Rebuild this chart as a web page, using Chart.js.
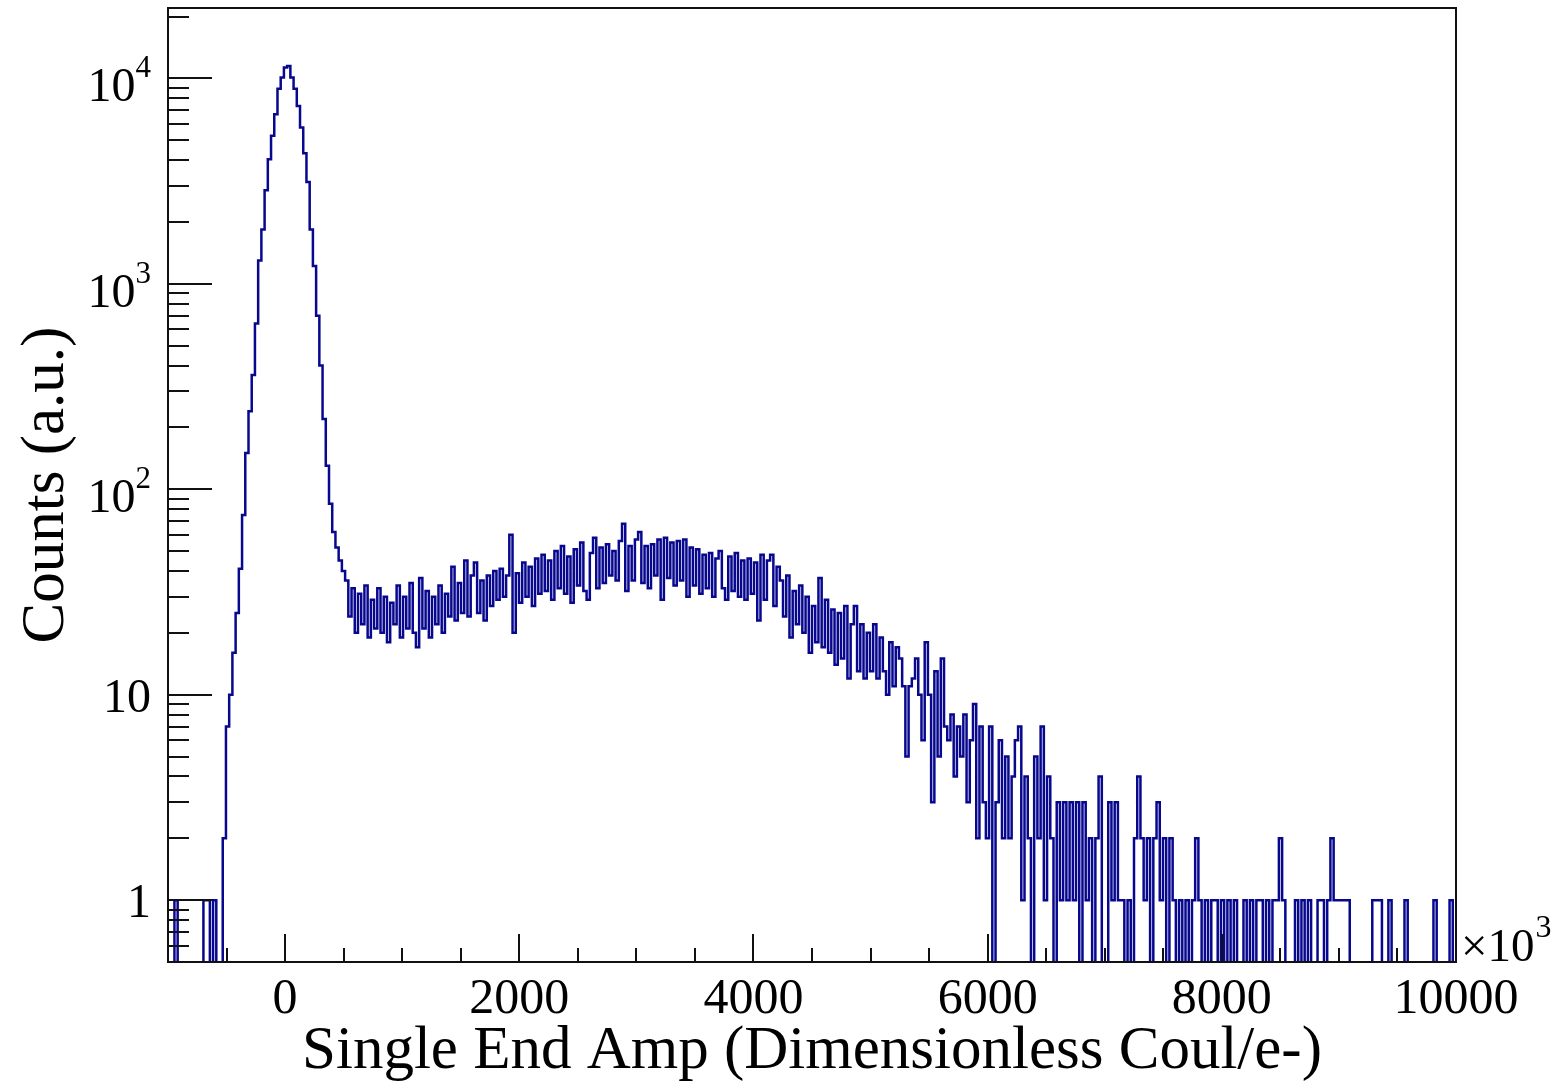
<!DOCTYPE html>
<html>
<head>
<meta charset="utf-8">
<title>Single End Amp</title>
<script src="https://cdn.jsdelivr.net/npm/chart.js@4.4.1/dist/chart.umd.min.js"></script>
<style>
  html, body { margin: 0; padding: 0; background: #fff; }
  #wrap { width: 1567px; height: 1084px; }
</style>
</head>
<body>
<div id="wrap"><canvas id="spectrum" width="1567" height="1084"></canvas></div>
<script>
(() => {
  "use strict";

  // Histogram binning (400 bins over -1000 .. 10000, x10^3)
  const xLow = -1000;
  const xHigh = 10000;
  const nBins = 400;

  // Bin contents, 50 bins per array
  const counts_000_049 = [0,0,1,0,0,0,0,0,0,0, 0,1,1,0,1,0,0,2,7,10, 16,25,41,75,150,240,360,640,1300,1840,
    2850,4040,5250,6690,8900,10100,11300,11500,10100,8900, 7340,5770,4320,3130,1840,1220,700,400,220,130];
  const counts_050_099 = [85,62,52,45,40,36,24,33,20,31, 22,34,19,29,21,33,20,30,18,28, 22,34,19,30,21,35,20,17,37,21,
    32,19,30,22,34,20,31,24,42,23, 35,25,45,24,38,44,25,36,23,38];
  const counts_100_149 = [27,40,29,41,30,38,60,20,39,28, 44,30,42,27,46,31,48,32,45,29, 50,33,53,31,47,28,51,34,55,32,
    29,49,58,33,52,35,54,38,50,36, 56,68,32,53,36,57,62,35,53,33];
  const counts_150_199 = [54,38,57,29,58,37,55,34,56,36, 57,30,52,34,51,31,48,33,49,30, 46,50,33,29,47,32,49,30,45,29,
    46,31,44,23,48,29,45,48,27,42, 36,24,38,19,32,22,34,20,30,16];
  const counts_200_249 = [27,18,37,17,29,16,26,14,25,15, 27,12,22,27,13,22,12,20,13,22, 12,19,13,10,18,11,17,15,11,5,
    11,12,15,10,6,18,10,3,13,5, 15,7,6,8,4,7,5,8,3,6];
  const counts_250_299 = [9,2,7,3,2,7,0,3,6,2, 5,2,4,6,7,1,4,2,0,5, 2,7,1,4,2,0,3,1,3,1,
    3,1,3,0,3,1,2,0,2,4, 0,0,3,1,3,1,1,0,1,0];
  const counts_300_349 = [2,4,2,1,2,0,2,3,1,2, 0,2,1,0,1,0,1,0,1,2, 1,0,1,0,1,1,0,1,0,1,
    0,1,0,0,1,0,1,0,1,1, 0,1,0,1,1,2,1,0,0,0];
  const counts_350_399 = [1,0,1,0,1,0,0,1,1,0, 1,2,1,1,1,1,1,0,0,0, 0,0,0,0,1,1,1,0,0,1,
    0,0,0,0,1,0,0,0,0,0, 0,0,0,1,0,0,0,0,1,0];

  // Axis ticks and labels
  const xMajorTicks = [0, 2000, 4000, 6000, 8000, 10000];
  const xTickLabels = ["0", "2000", "4000", "6000", "8000", "10000"];
  const xMinorStep = 500;
  const yMajorTicks = [1, 10, 100, 1000, 10000];
  const yTickBase = ["1", "10", "10", "10", "10"];
  const yTickExp = ["", "", "2", "3", "4"];
  const yMin = 0.5;
  const yMax = 22000;

  const xTitle = "Single End Amp (Dimensionless Coul/e-)";
  const yTitle = "Counts (a.u.)";

  const LINE = "#08088f";
  const INK = "#111111";
  const SERIF = '"Liberation Serif", "Times New Roman", serif';

  const counts = [].concat(counts_000_049, counts_050_099, counts_100_149, counts_150_199,
    counts_200_249, counts_250_299, counts_300_349, counts_350_399);

  // empty bins drop below the frame, like ROOT does on a log axis
  const floorValue = yMin / 5;
  const binWidth = (xHigh - xLow) / nBins;
  const points = counts.map((c, i) => ({ x: xLow + i * binWidth, y: c > 0 ? c : floorValue }));
  points.push({ x: xHigh, y: counts[counts.length - 1] > 0 ? counts[counts.length - 1] : floorValue });

  const drawSup = (ctx, base, exp, right, baseY, size) => {
    ctx.font = `${size}px ${SERIF}`;
    const wb = ctx.measureText(base).width;
    let ws = 0;
    if (exp) {
      ctx.font = `${Math.round(size * 0.64)}px ${SERIF}`;
      ws = ctx.measureText(exp).width;
    }
    const left = right - wb - ws;
    ctx.textAlign = "left";
    ctx.font = `${size}px ${SERIF}`;
    ctx.fillText(base, left, baseY);
    if (exp) {
      ctx.font = `${Math.round(size * 0.64)}px ${SERIF}`;
      ctx.fillText(exp, left + wb, baseY - size * 0.5);
    }
  };

  const rootFrame = {
    id: "rootFrame",
    afterDatasetsDraw(chart) {
      const { ctx, chartArea: a } = chart;
      const x = chart.scales.x;
      const y = chart.scales.y;
      ctx.save();

      // frame
      ctx.strokeStyle = INK;
      ctx.lineWidth = 2;
      ctx.strokeRect(a.left, a.top, a.right - a.left, a.bottom - a.top);

      // ticks, drawn inside the frame
      ctx.beginPath();
      for (let v = xLow + xMinorStep; v < xHigh; v += xMinorStep) {
        const px = Math.round(x.getPixelForValue(v));
        const len = xMajorTicks.includes(v) ? 28 : 14;
        ctx.moveTo(px, a.bottom);
        ctx.lineTo(px, a.bottom - len);
      }
      for (let d = 0.1; d < yMax; d *= 10) {
        for (let m = 1; m <= 9; m++) {
          const v = m * d;
          if (v < yMin || v > yMax) continue;
          const py = Math.round(y.getPixelForValue(v));
          const len = m === 1 ? 44 : 21;
          ctx.moveTo(a.left, py);
          ctx.lineTo(a.left + len, py);
        }
      }
      ctx.stroke();

      // tick labels
      ctx.fillStyle = "#000";
      ctx.textBaseline = "alphabetic";
      ctx.textAlign = "center";
      ctx.font = `50px ${SERIF}`;
      xMajorTicks.forEach((v, i) => {
        ctx.fillText(xTickLabels[i], x.getPixelForValue(v), a.bottom + 51);
      });
      yMajorTicks.forEach((v, i) => {
        const py = y.getPixelForValue(v);
        const exp = yTickExp[i];
        drawSup(ctx, yTickBase[i], exp, a.left - 17, py + (exp ? 23 : 17), 48);
      });

      // axis multiplier
      ctx.textAlign = "left";
      ctx.font = `47px ${SERIF}`;
      const mul = "\u00d710";
      ctx.fillText(mul, a.right + 5, a.bottom - 1);
      const wm = ctx.measureText(mul).width;
      ctx.font = `32px ${SERIF}`;
      ctx.fillText("3", a.right + 6 + wm, a.bottom - 25);

      // axis titles
      ctx.font = `61px ${SERIF}`;
      ctx.textAlign = "center";
      ctx.fillText(xTitle, (a.left + a.right) / 2, a.bottom + 106);
      ctx.translate(63, (a.top + a.bottom) / 2);
      ctx.rotate(-Math.PI / 2);
      ctx.fillText(yTitle, 0, 0);

      ctx.restore();
    }
  };

  new Chart(document.getElementById("spectrum").getContext("2d"), {
    type: "line",
    data: {
      datasets: [{
        data: points,
        stepped: "before",
        borderColor: LINE,
        borderWidth: 2.5,
        borderJoinStyle: "miter",
        pointRadius: 0,
        fill: false,
        tension: 0
      }]
    },
    options: {
      responsive: false,
      animation: false,
      devicePixelRatio: 1,
      layout: { padding: { top: 8, right: 111, left: 0, bottom: 0 } },
      plugins: { legend: { display: false }, tooltip: { enabled: false } },
      scales: {
        x: {
          type: "linear", min: xLow, max: xHigh,
          ticks: { display: false }, grid: { display: false }, border: { display: false },
          afterFit: (s) => { s.height = 122; }
        },
        y: {
          type: "logarithmic", min: yMin, max: yMax,
          ticks: { display: false }, grid: { display: false }, border: { display: false },
          afterFit: (s) => { s.width = 168; }
        }
      }
    },
    plugins: [rootFrame]
  });
})();
</script>
</body>
</html>
